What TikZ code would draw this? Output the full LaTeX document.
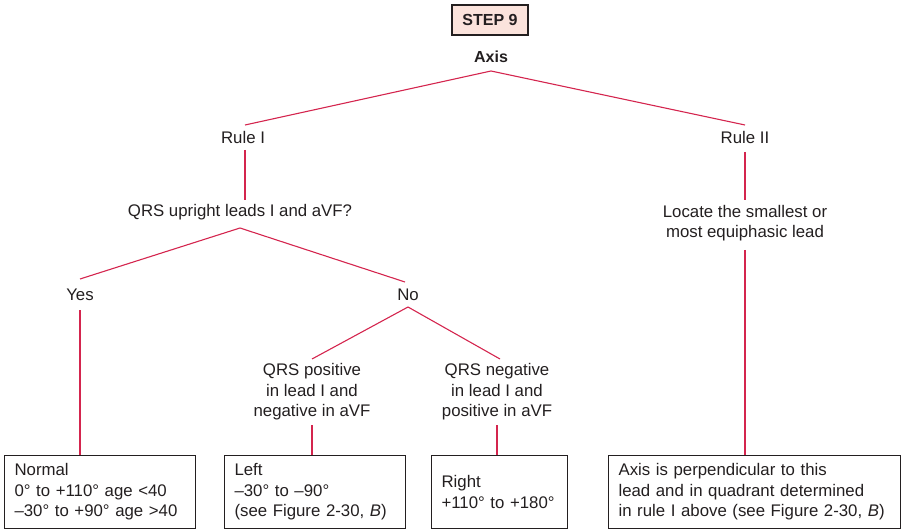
\documentclass[tikz,border=0pt]{standalone}
\usepackage{fontspec}
\setmainfont{Liberation Sans}
\definecolor{linkred}{HTML}{D4254E}
\definecolor{boxline}{HTML}{231F20}
\definecolor{stepfill}{HTML}{FBE3DC}
\begin{document}
\begin{tikzpicture}[x=1pt,y=-1pt,
  every node/.style={font=\fontsize{16.8}{20.5}\selectfont, text=boxline, inner sep=0pt},
  lbl/.style={align=center},
  link/.style={draw=linkred, line width=1.1pt},
  resbox/.style={draw=boxline, line width=1.1pt, minimum height=73pt, align=left, inner xsep=10pt, anchor=north west},
  stepbox/.style={draw=boxline, fill=stepfill, line width=1.1pt, minimum width=76pt, minimum height=30pt, font=\fontsize{16}{20}\selectfont\bfseries}
]
\useasboundingbox (0,0) rectangle (902,529);

\node[stepbox] (step) at (490,20) {STEP 9};
\node[font=\fontsize{16}{20}\selectfont\bfseries] (axis) at (491,57) {Axis};
\coordinate (apex) at (491,71);
\node (r1) at (243,137) {Rule I};
\node (r2) at (745,137) {Rule II};
\coordinate (r1t) at (245,125);
\coordinate (r2t) at (745,125);
\draw[link] (r1t) -- (apex) -- (r2t);

\node[lbl] (q) at (240,212) {QRS upright leads I and aVF?};
\coordinate (r1b) at (245,150);
\coordinate (qt) at (245,200);
\draw[link] (r1b) -- (qt);

\node[lbl] (loc) at (745,223) {Locate the smallest or\\most equiphasic lead};
\coordinate (r2b) at (745,152);
\coordinate (loct) at (745,200);
\draw[link] (r2b) -- (loct);

\coordinate (qb) at (240,228);
\coordinate (yt) at (80,279);
\coordinate (nt) at (405,282);
\draw[link] (yt) -- (qb) -- (nt);
\node (yes) at (80,295) {Yes};
\node (no) at (408,295) {No};

\coordinate (nb) at (408,307);
\coordinate (pt) at (312,359);
\coordinate (ngt) at (500,359);
\draw[link] (pt) -- (nb) -- (ngt);

\node[lbl] (pos) at (312,392) {QRS positive\\in lead I and\\negative in aVF};
\node[lbl] (neg) at (497,392) {QRS negative\\in lead I and\\positive in aVF};

\node[resbox, minimum width=191pt, text width=171pt] (normal) at (4,455) {Normal\\0° to +110° age <40\\–30° to +90° age >40};
\node[resbox, minimum width=181pt, text width=161pt] (left) at (224,455) {Left\\–30° to –90°\\(see Figure 2-30, \textit{B})};
\node[resbox, minimum width=136pt, text width=116pt] (right) at (431,455) {Right\\+110° to +180°};
\node[resbox, minimum width=292pt, text width=272pt] (perp) at (608,455) {Axis is perpendicular to this\\lead and in quadrant determined\\in rule I above (see Figure 2-30, \textit{B})};

\coordinate (yb) at (80,310);
\draw[link] (yb) -- (yb |- normal.north);
\coordinate (pb) at (312,425);
\draw[link] (pb) -- (pb |- left.north);
\coordinate (ngb) at (497,425);
\draw[link] (ngb) -- (ngb |- right.north);
\coordinate (locb) at (745,250);
\draw[link] (locb) -- (locb |- perp.north);
\end{tikzpicture}
\end{document}
